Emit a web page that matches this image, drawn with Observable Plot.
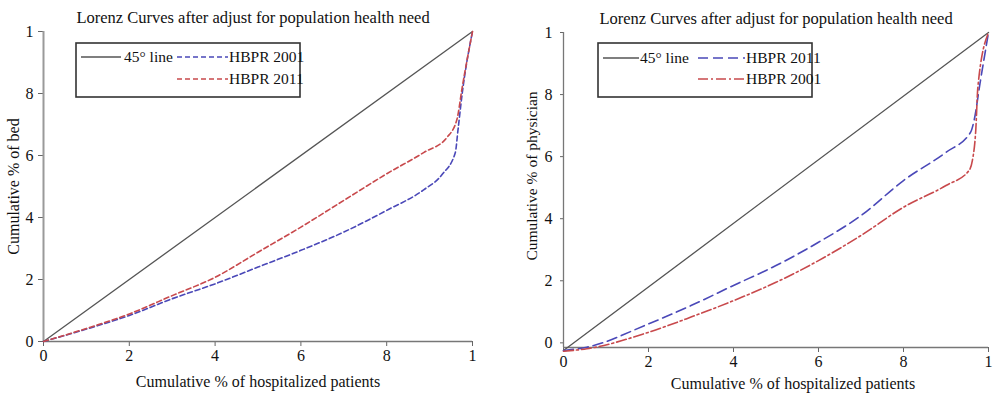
<!DOCTYPE html>
<html><head><meta charset="utf-8">
<script src="https://cdn.jsdelivr.net/npm/d3@7"></script>
<script src="https://cdn.jsdelivr.net/npm/@observablehq/plot@0.6"></script>
<style>
html,body{margin:0;padding:0;background:#fff;}
#wrap{position:relative;width:1000px;height:399px;display:flex;font-family:"Liberation Serif",serif;}
.panel{position:relative;width:500px;height:399px;}
.panel svg.legend{position:absolute;left:0;top:0;pointer-events:none;}
</style></head>
<body><div id="wrap"><div class="panel" id="p1"></div><div class="panel" id="p2"></div></div>
<script>
// ---- data ----
const titleText = "Lorenz Curves after adjust for population health need";
const xLabel = "Cumulative % of hospitalized patients";
const yLabelBed = "Cumulative % of bed";
const yLabelPhys = "Cumulative % of physician";
const ticks = [0, 0.2, 0.4, 0.6, 0.8, 1];
const tickLabels = ["0", "2", "4", "6", "8", "1"];

// Left panel (beds)
const bedDiagX = [0, 1];
const bedDiagY = [0, 1];
const bed2001X = [0, 0.1, 0.2, 0.3, 0.4, 0.5, 0.6, 0.7, 0.8, 0.887, 0.93, 0.96, 0.966, 0.976, 1];
const bed2001Y = [0, 0.04, 0.084, 0.138, 0.186, 0.24, 0.294, 0.353, 0.423, 0.49, 0.54, 0.61, 0.68, 0.8, 1];
const bed2011X = [0, 0.1, 0.2, 0.3, 0.4, 0.5, 0.6, 0.7, 0.8, 0.887, 0.941, 0.964, 0.976, 1];
const bed2011Y = [0, 0.042, 0.089, 0.148, 0.207, 0.288, 0.369, 0.455, 0.541, 0.61, 0.659, 0.718, 0.82, 1];

// Right panel (physicians)
const phyDiagX = [0, 1];
const phyDiagY = [-0.025, 1];
const phy2011X = [0, 0.055, 0.2, 0.3, 0.4, 0.5, 0.6, 0.7, 0.8, 0.9, 0.958, 0.966, 0.98, 1];
const phy2011Y = [-0.025, -0.014, 0.061, 0.12, 0.185, 0.249, 0.324, 0.41, 0.523, 0.614, 0.679, 0.716, 0.836, 1];
const phy2001X = [0, 0.055, 0.2, 0.3, 0.4, 0.5, 0.6, 0.7, 0.8, 0.9, 0.954, 0.962, 0.97, 0.975, 1];
const phy2001Y = [-0.027, -0.019, 0.034, 0.083, 0.136, 0.195, 0.265, 0.346, 0.437, 0.507, 0.555, 0.587, 0.684, 0.824, 1];

const seriesNames = ["45° line", "HBPR 2001", "HBPR 2011"];

// ---- styles ----
const FONT = "Liberation Serif";
const BLACK = "#555";
const BLUE = "#4a48b8";
const RED = "#c8494c";

const toRows = (xs, ys) => xs.map((x, i) => ({x, y: ys[i]}));
const fmt = d => tickLabels[ticks.findIndex(t => Math.abs(t - d) < 1e-9)];

function panel(opts) {
  return Plot.plot({
    width: 500, height: 399,
    marginLeft: opts.ml, marginRight: opts.mr, marginTop: opts.mt, marginBottom: opts.mb,
    x: {domain: [0, 1]},
    y: {domain: opts.ydom},
    style: {fontFamily: FONT, fontSize: "16px", background: "white", color: "#111", overflow: "visible"},
    marks: [
      Plot.axisX({ticks, tickFormat: fmt, tickSize: 5, tickPadding: 3, label: null, fontSize: 16, stroke: "#666"}),
      Plot.axisY({ticks, tickFormat: fmt, tickSize: opts.yts, tickPadding: opts.ytp, label: null, fontSize: 16, stroke: "#666"}),
      Plot.ruleX([0], {stroke: opts.yAxisColor, strokeWidth: opts.yAxisWidth}),
      Plot.ruleY([opts.ydom[0]], {stroke: "#777", strokeWidth: 1.6}),
      Plot.line(opts.diag, {x: "x", y: "y", stroke: BLACK, strokeWidth: 1.3}),
      Plot.line(opts.s1, {x: "x", y: "y", stroke: opts.c1, strokeWidth: 1.6, strokeDasharray: opts.d1, curve: "monotone-x"}),
      Plot.line(opts.s2, {x: "x", y: "y", stroke: opts.c2, strokeWidth: 1.6, strokeDasharray: opts.d2, curve: "monotone-x"}),
      Plot.text([titleText], {frameAnchor: "top", dy: -14, dx: opts.tdx, lineAnchor: "middle", fontSize: 16.5, fill: "#111"}),
      Plot.text([xLabel], {frameAnchor: "bottom", dy: opts.xldy, dx: opts.xldx, lineAnchor: "middle", fontSize: 16, fill: "#111"}),
      Plot.text([opts.ylabel], {frameAnchor: "left", dx: opts.yldx, dy: opts.yldy, rotate: -90, textAnchor: "middle", lineAnchor: "middle", fontSize: opts.ylfs, fill: "#111"})
    ]
  });
}

const p1 = panel({
  ml: 43, mr: 28, mt: 31, mb: 58, ydom: [0, 1],
  yts: 5, ytp: 5, yAxisColor: "#9a9a9a", yAxisWidth: 2,
  diag: toRows(bedDiagX, bedDiagY),
  s1: toRows(bed2001X, bed2001Y), c1: BLUE, d1: "5,3",
  s2: toRows(bed2011X, bed2011Y), c2: RED, d2: "5,3",
  tdx: -5, xldy: 40, xldx: 0, ylabel: yLabelBed, yldx: -30, yldy: 0, ylfs: 16
});
const p2 = panel({
  ml: 63, mr: 12, mt: 32, mb: 52, ydom: [-0.015, 1],
  yts: 3, ytp: 8, yAxisColor: "#777", yAxisWidth: 1.3,
  diag: toRows(phyDiagX, phyDiagY),
  s1: toRows(phy2011X, phy2011Y), c1: BLUE, d1: "10,5",
  s2: toRows(phy2001X, phy2001Y), c2: RED, d2: "10,3,2,3",
  tdx: 0, xldy: 36, xldx: 17, ylabel: yLabelPhys, yldx: -31, yldy: -14, ylfs: 15.5
});
document.getElementById("p1").appendChild(p1);
document.getElementById("p2").appendChild(p2);

// ---- legends ----
function legend(container, box, rows) {
  const svg = d3.select(container).append("svg").attr("class", "legend")
    .attr("width", 500).attr("height", 399);
  svg.append("rect").attr("x", box.x).attr("y", box.y).attr("width", box.w).attr("height", box.h)
    .attr("fill", "none").attr("stroke", "#333").attr("stroke-width", 1.6);
  for (const r of rows) {
    svg.append("line").attr("x1", r.x1).attr("x2", r.x2).attr("y1", r.y).attr("y2", r.y)
      .attr("stroke", r.color).attr("stroke-width", 1.6).attr("stroke-dasharray", r.dash || null);
    svg.append("text").attr("x", r.tx).attr("y", r.y).attr("dy", "0.35em")
      .attr("font-family", FONT).attr("font-size", 15.5).attr("fill", "#111").text(r.label);
  }
}
legend(document.getElementById("p1"), {x: 76, y: 43, w: 224, h: 54}, [
  {x1: 81, x2: 121, y: 57, color: BLACK, tx: 124, label: seriesNames[0]},
  {x1: 177, x2: 228, y: 57, color: BLUE, dash: "5,3", tx: 229, label: seriesNames[1]},
  {x1: 177, x2: 228, y: 79, color: RED, dash: "5,3", tx: 229, label: seriesNames[2]}
]);
legend(document.getElementById("p2"), {x: 98, y: 43, w: 214, h: 54}, [
  {x1: 103, x2: 139, y: 58, color: BLACK, tx: 140, label: seriesNames[0]},
  {x1: 198, x2: 245, y: 58, color: BLUE, dash: "10,5", tx: 246, label: seriesNames[2]},
  {x1: 198, x2: 245, y: 79, color: RED, dash: "10,3,2,3", tx: 246, label: seriesNames[1]}
]);
</script></body></html>
